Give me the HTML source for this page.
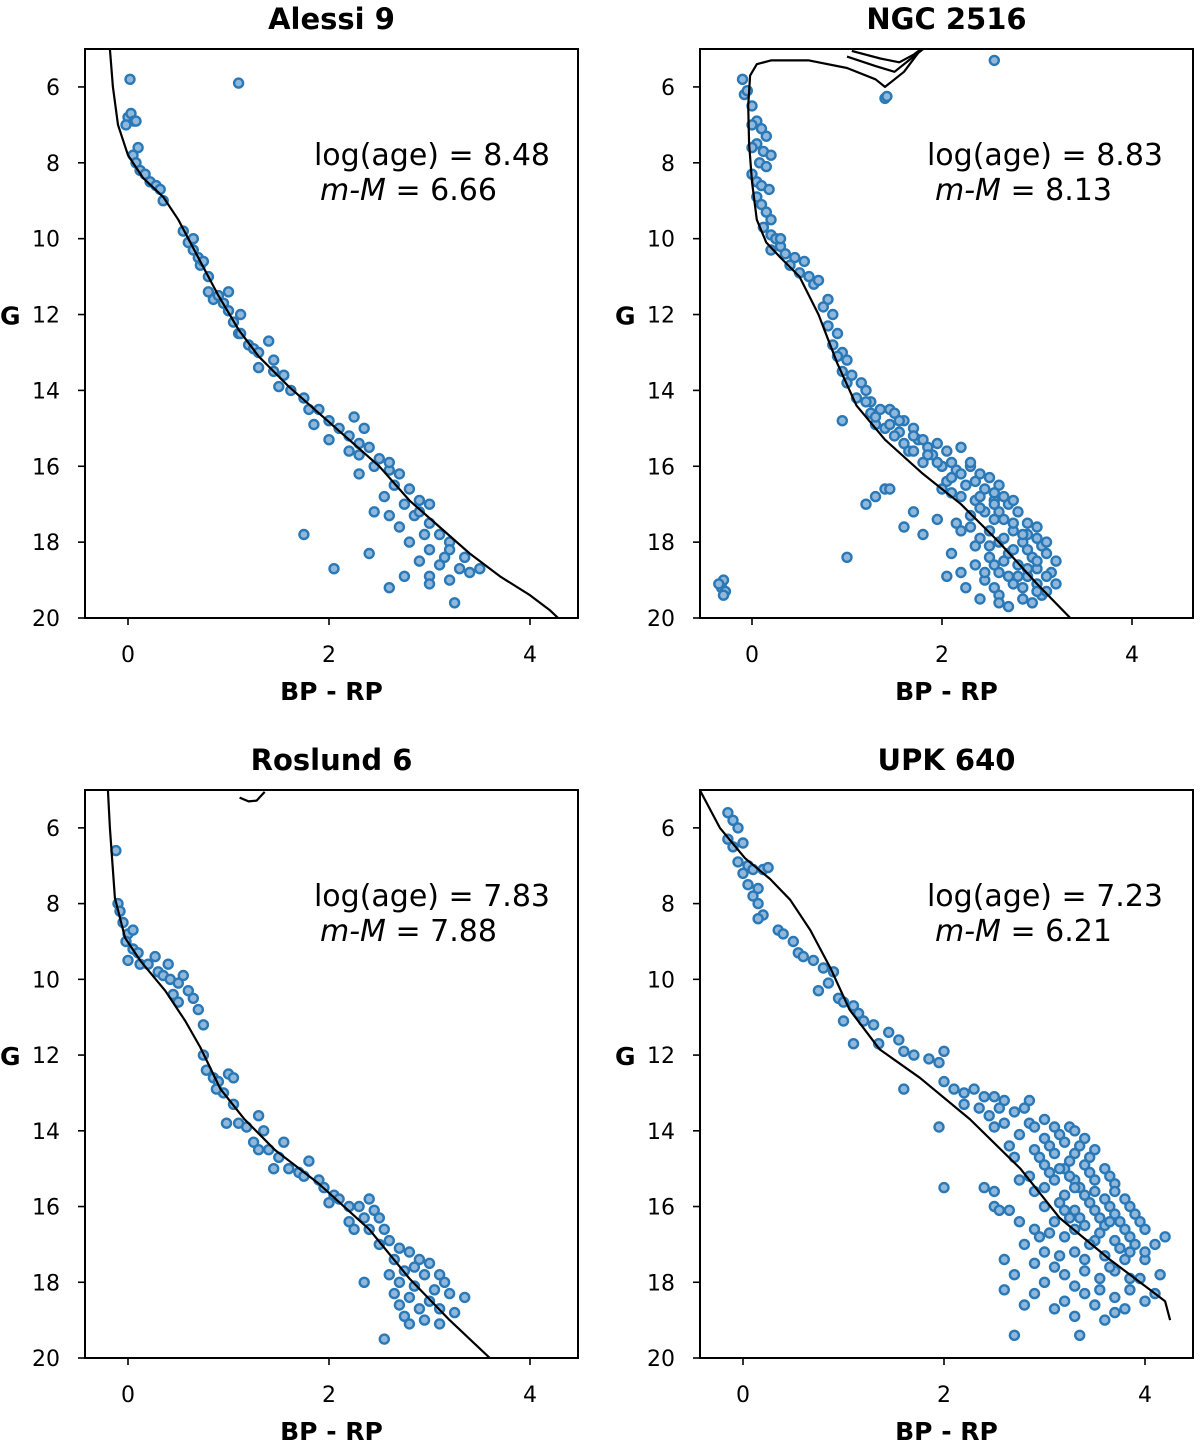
<!DOCTYPE html>
<html><head><meta charset="utf-8"><style>
body{margin:0;background:#fff}
svg{display:block;font-family:"DejaVu Sans","Liberation Sans",sans-serif}
</style></head><body>
<svg id="fig" width="1200" height="1449" viewBox="0 0 1200 1449" xmlns="http://www.w3.org/2000/svg"></svg>
<script>
// ---- data ----
const titles = ["Alessi 9","NGC 2516","Roslund 6","UPK 640"];
const logAges = ["8.48","8.83","7.83","7.23"];
const distMods = ["6.66","8.13","7.88","6.21"];
const yTicks = [6,8,10,12,14,16,18,20];
const xTicks = [0,2,4];

const iso1 = [[-0.18,5],[-0.15,6],[-0.1,7],[0,7.8],[0.15,8.4],[0.35,8.9],[0.5,9.5],[0.7,10.5],[0.9,11.5],[1.1,12.4],[1.3,13.1],[1.6,13.9],[1.9,14.6],[2.2,15.3],[2.5,16.0],[2.8,16.9],[3.1,17.6],[3.4,18.3],[3.7,18.9],[4.0,19.4],[4.2,19.8],[4.28,20]];
const iso2 = [[3.35,20],[3.0,19.1],[2.6,18.0],[2.2,17.0],[1.8,16.2],[1.4,15.3],[1.1,14.4],[0.9,13.3],[0.7,12.0],[0.5,11.0],[0.3,10.5],[0.15,10.1],[0.05,9.5],[0.0,8.5],[-0.03,7.5],[-0.04,6.5],[-0.02,5.7],[0.05,5.4],[0.2,5.3],[0.6,5.3],[1.0,5.5],[1.3,5.8],[1.4,6.0],[1.6,5.6],[1.75,5.1],[1.8,5.0]];
const iso2b = [[1.0,5.2],[1.3,5.45],[1.5,5.6],[1.65,5.3],[1.8,5.0]];
const iso2c = [[1.05,5.05],[1.35,5.25],[1.55,5.35],[1.7,5.15],[1.78,5.0]];
const iso3 = [[-0.2,5.0],[-0.18,6.0],[-0.13,7.85],[-0.03,8.9],[0.12,9.5],[0.37,10.3],[0.57,11.1],[0.72,11.8],[0.92,12.9],[1.16,13.7],[1.46,14.5],[1.9,15.4],[2.4,16.6],[2.8,17.9],[3.2,19.0],[3.6,20.0]];
const iso3b = [[1.11,5.2],[1.2,5.3],[1.28,5.28],[1.36,5.05]];
const iso4 = [[-0.43,5.0],[-0.23,6.0],[0.02,6.8],[0.27,7.35],[0.47,7.9],[0.67,8.7],[0.87,9.7],[1.06,10.8],[1.36,11.85],[1.76,12.6],[2.26,13.7],[2.76,15.0],[3.15,16.3],[3.65,17.4],[4.05,18.2],[4.2,18.5],[4.25,19.0]];

const stars1 = [[0.02,5.8],[1.1,5.9],[0,6.8],[0.03,6.7],[0.06,6.9],[-0.02,7],[0.08,6.9],[0.05,7.8],[0.1,7.6],[0.08,8.0],[0.12,8.2],[0.17,8.3],[0.22,8.5],[0.28,8.6],[0.32,8.7],[0.35,9.0],[0.55,9.8],[0.6,10.1],[0.65,10.3],[0.7,10.5],[0.72,10.7],[0.8,11.0],[0.8,11.4],[0.85,11.6],[0.9,11.5],[1.0,11.4],[1.0,11.9],[1.05,12.2],[1.12,12.0],[1.1,12.5],[1.2,12.8],[1.25,12.9],[1.3,13.0],[1.45,13.2],[1.55,13.6],[1.5,13.9],[1.62,14.0],[1.75,14.2],[1.8,14.5],[1.9,14.5],[1.85,14.9],[2.0,14.8],[2.1,15.0],[2.0,15.3],[2.2,15.2],[2.3,15.4],[2.4,15.5],[2.5,15.8],[2.3,15.7],[2.45,16.0],[2.6,16.1],[2.7,16.2],[2.65,16.5],[2.8,16.6],[2.55,16.8],[2.75,17.0],[2.9,16.9],[3.0,17.0],[2.85,17.3],[3.0,17.5],[2.7,17.6],[2.95,17.8],[3.1,17.8],[3.2,18.0],[2.8,18.0],[3.0,18.2],[3.2,18.2],[3.35,18.4],[2.9,18.5],[3.1,18.6],[3.3,18.7],[3.5,18.7],[2.75,18.9],[3.0,18.9],[3.2,19.0],[3.4,18.8],[2.6,19.2],[3.0,19.1],[3.25,19.6],[1.75,17.8],[2.05,18.7],[2.4,18.3],[2.2,15.6],[2.25,14.7],[2.35,15.0],[2.3,16.2],[2.6,15.9],[1.45,13.5],[1.3,13.4],[1.12,12.5],[2.45,17.2],[2.6,17.3],[1.4,12.7],[0.65,10.0],[0.75,10.6],[0.95,11.7],[2.9,17.2],[3.15,18.4]];
const stars2 = [[-0.1,5.8],[-0.08,6.2],[-0.05,6.1],[1.4,6.3],[1.42,6.25],[2.55,5.3],[0.0,6.5],[0.05,6.9],[0.0,7.0],[0.1,7.1],[0.15,7.3],[0.05,7.5],[0.12,7.7],[0.2,7.8],[0.0,7.6],[0.08,8.0],[0.15,8.1],[0.0,8.3],[0.05,8.5],[0.1,8.6],[0.18,8.7],[0.05,8.9],[0.1,9.1],[0.15,9.3],[0.2,9.5],[0.12,9.7],[0.2,9.9],[0.25,10.0],[0.3,10.2],[0.2,10.3],[0.35,10.4],[0.45,10.5],[0.4,10.7],[0.55,10.6],[0.5,10.9],[0.6,11.0],[0.65,11.2],[0.7,11.1],[0.8,11.6],[0.75,11.8],[0.85,12.0],[0.8,12.3],[0.9,12.5],[0.85,12.8],[0.95,13.0],[1.0,13.2],[0.95,13.5],[1.05,13.6],[1.15,13.8],[1.2,14.0],[1.1,14.2],[1.25,14.3],[1.35,14.5],[1.45,14.5],[1.5,14.6],[1.6,14.8],[1.3,14.9],[1.4,15.0],[1.55,15.1],[1.7,15.0],[0.95,14.8],[1.75,15.3],[1.6,15.4],[1.85,15.5],[1.9,15.7],[2.05,15.6],[2.2,15.5],[1.8,15.9],[2.0,16.0],[2.15,16.1],[2.3,16.0],[2.4,16.2],[2.05,16.4],[2.25,16.5],[2.45,16.6],[2.6,16.5],[2.2,16.8],[2.35,16.9],[2.55,16.9],[2.7,17.0],[2.8,17.2],[2.45,17.2],[2.3,17.3],[2.65,17.4],[2.9,17.5],[3.0,17.6],[2.5,17.7],[2.75,17.7],[2.2,17.7],[2.4,17.9],[2.6,18.0],[2.85,18.0],[3.05,18.1],[2.7,18.3],[2.95,18.4],[3.1,18.3],[2.5,18.4],[2.8,18.6],[3.0,18.7],[2.6,18.8],[2.9,18.9],[3.15,18.8],[2.45,19.0],[2.75,19.1],[3.0,19.1],[3.2,19.1],[2.6,19.4],[2.85,19.5],[3.05,19.4],[2.7,19.7],[2.4,19.5],[2.25,19.2],[2.1,18.3],[1.95,17.4],[1.8,17.8],[1.6,17.6],[1.7,17.2],[1.4,16.6],[1.45,16.6],[1.2,17.0],[1.3,16.8],[1.0,18.4],[2.2,18.8],[2.05,18.9],[2.3,15.9],[-0.3,19.0],[-0.32,19.2],[-0.28,19.3],[-0.3,19.4],[-0.35,19.1],[1.95,15.9],[2.1,16.3],[2.5,16.3],[2.4,16.8],[2.6,17.2],[2.9,17.8],[3.1,18.0],[3.2,18.5],[2.35,18.1],[1.65,15.6],[1.5,15.2],[1.25,14.6],[2.0,16.6],[2.9,18.2],[2.55,18.6],[3.1,19.3],[2.8,18.9],
[1.3,14.7],[1.45,14.9],[1.55,14.8],[1.7,15.2],[1.8,15.3],[1.95,15.4],[1.7,15.6],[1.85,15.7],[2.1,15.9],[2.2,16.2],[2.35,16.4],[2.55,16.7],[2.65,16.8],[2.1,16.7],[2.4,17.1],[2.55,17.4],[2.75,17.5],[2.85,17.8],[3.0,17.9],[2.65,17.9],[2.5,18.1],[2.75,18.2],[3.0,18.5],[2.65,18.5],[2.9,18.7],[3.1,18.9],[2.7,18.9],[2.85,19.2],[3.0,19.3],[2.55,19.2],[2.95,19.6],[2.6,19.6],[2.35,18.6],[2.45,18.8],[2.15,17.5],[2.3,17.6],[2.55,17.0],[2.75,16.9],[1.2,14.3],[1.0,13.8],[0.9,13.1],[0.3,10.0]];
const stars3 = [[-0.12,6.6],[-0.1,8.0],[-0.08,8.2],[-0.05,8.5],[0.0,8.8],[0.05,8.7],[-0.02,9.0],[0.05,9.2],[0.1,9.3],[0.0,9.5],[0.12,9.6],[0.2,9.6],[0.27,9.4],[0.4,9.6],[0.3,9.8],[0.35,9.9],[0.42,10.0],[0.5,10.1],[0.55,9.9],[0.6,10.3],[0.65,10.5],[0.7,10.8],[0.75,11.2],[0.45,10.4],[0.5,10.6],[0.75,12.0],[0.78,12.4],[0.85,12.6],[0.9,12.7],[1.0,12.5],[1.05,12.6],[0.95,13.0],[1.05,13.3],[0.98,13.8],[1.1,13.8],[1.18,13.9],[1.3,13.6],[1.35,14.0],[1.25,14.3],[1.4,14.5],[1.55,14.3],[1.5,14.7],[1.6,15.0],[1.7,15.1],[1.8,14.8],[1.9,15.3],[1.95,15.5],[2.05,15.7],[2.1,15.8],[2.2,16.0],[2.3,16.0],[2.4,15.8],[2.45,16.1],[2.35,16.3],[2.5,16.3],[2.55,16.6],[2.4,16.6],[2.6,16.9],[2.5,17.0],[2.7,17.1],[2.8,17.2],[2.65,17.4],[2.9,17.4],[3.0,17.5],[2.75,17.7],[2.95,17.8],[3.1,17.8],[2.7,18.0],[2.85,18.1],[3.05,18.2],[2.65,18.3],[3.2,18.3],[2.8,18.4],[3.0,18.5],[3.35,18.4],[2.7,18.6],[2.9,18.7],[3.1,18.7],[3.25,18.8],[2.75,18.9],[2.95,19.0],[3.1,19.1],[2.8,19.1],[2.55,19.5],[2.35,18.0],[1.45,15.0],[1.75,15.2],[2.2,16.4],[2.0,15.9],[1.3,14.5],[0.88,12.9],[2.25,16.6],[2.85,17.6],[3.15,18.0],[2.6,17.8]];
const stars4 = [[-0.15,5.6],[-0.1,5.8],[-0.05,6.0],[-0.15,6.3],[-0.1,6.5],[0.0,6.4],[-0.05,6.9],[0.05,7.0],[0.0,7.2],[0.1,7.1],[0.2,7.1],[0.25,7.05],[0.05,7.5],[0.15,7.6],[0.1,7.8],[0.15,8.0],[0.2,8.3],[0.15,8.4],[0.35,8.7],[0.4,8.8],[0.5,9.0],[0.55,9.3],[0.6,9.4],[0.7,9.5],[0.8,9.7],[0.9,9.8],[0.85,10.1],[0.75,10.3],[0.95,10.5],[1.0,10.6],[1.1,10.7],[1.15,10.9],[1.2,11.1],[1.3,11.2],[1.45,11.4],[1.55,11.6],[1.35,11.7],[1.6,11.9],[1.7,12.0],[1.85,12.1],[1.95,12.2],[1.1,11.7],[2.0,12.7],[2.1,12.9],[2.2,13.0],[2.3,12.9],[2.4,13.1],[2.5,13.1],[2.6,13.2],[2.7,13.5],[2.8,13.4],[2.2,13.3],[2.45,13.6],[1.95,13.9],[2.6,13.8],[2.85,13.8],[3.0,13.7],[3.1,13.9],[3.25,13.9],[2.75,14.1],[3.0,14.2],[3.2,14.3],[3.4,14.2],[2.9,14.5],[3.1,14.6],[3.3,14.6],[3.5,14.5],[2.7,14.7],[3.0,14.9],[3.2,15.0],[3.4,14.9],[3.6,15.0],[2.85,15.2],[3.1,15.3],[3.3,15.3],[3.5,15.3],[3.7,15.4],[2.9,15.6],[3.2,15.7],[3.4,15.7],[3.6,15.8],[3.8,15.8],[3.0,16.0],[3.3,16.1],[3.5,16.1],[3.7,16.2],[3.9,16.2],[3.1,16.4],[3.4,16.5],[3.6,16.5],[3.8,16.6],[4.0,16.6],[2.9,16.6],[3.2,16.8],[3.5,16.9],[3.7,16.9],[3.9,17.0],[4.1,17.0],[2.8,17.0],[3.0,17.2],[3.3,17.2],[3.6,17.3],[3.8,17.4],[4.0,17.4],[2.6,17.4],[3.1,17.6],[3.4,17.7],[3.7,17.7],[3.95,17.9],[4.15,17.8],[2.7,17.8],[3.0,18.0],[3.3,18.1],[3.55,18.2],[3.85,18.2],[4.1,18.3],[2.9,18.3],[3.2,18.5],[3.5,18.6],[3.8,18.7],[2.6,18.2],[2.8,18.6],[3.3,18.9],[3.7,18.8],[2.7,19.4],[3.35,19.4],[2.4,15.5],[2.5,15.6],[2.0,15.5],[2.5,16.0],[2.55,16.1],[2.65,16.1],[2.75,15.3],[1.0,11.1],[2.0,11.9],[1.6,12.9],[4.2,16.8],[3.15,15.0],[3.35,15.5],[3.55,16.3],[3.25,16.3],[3.45,17.0],[3.65,17.6],[2.95,16.8],[3.15,17.3],[3.05,14.4],[3.35,14.4],[2.5,13.9],[2.35,13.4],[3.75,16.4],[3.85,17.2],
[2.9,13.9],[3.15,14.1],[3.3,14.0],[2.95,14.7],[3.25,14.8],[3.45,14.7],[3.05,15.1],[3.25,15.2],[3.45,15.1],[3.65,15.2],[3.0,15.5],[3.3,15.5],[3.5,15.6],[3.7,15.6],[3.15,15.9],[3.45,15.9],[3.65,16.0],[3.85,16.0],[3.2,16.1],[3.35,16.3],[3.65,16.4],[3.95,16.4],[3.05,16.7],[3.3,16.6],[3.55,16.7],[3.85,16.8],[3.4,17.4],[3.75,17.1],[4.0,17.2],[3.2,17.8],[3.55,17.9],[3.85,17.9],[3.4,18.3],[3.7,18.4],[4.0,18.5],[3.1,18.7],[3.6,19.0],[2.9,17.5],[2.75,16.4],[2.65,14.4],[2.55,13.4],[2.85,13.2]];

// ---- layout ----
const panels = [
  {id:"alessi-9",L:85,R:578,T:49,B:618,x0:128,xs:100.5,iso:[iso1],stars:stars1,tx:550,mx:320},
  {id:"ngc-2516",L:700,R:1193,T:49,B:618,x0:752,xs:95,iso:[iso2,iso2b,iso2c],stars:stars2,tx:1163,mx:935},
  {id:"roslund-6",L:85,R:578,T:790,B:1358,x0:128,xs:100.5,iso:[iso3,iso3b],stars:stars3,tx:550,mx:320},
  {id:"upk-640",L:700,R:1193,T:790,B:1358,x0:743,xs:100.5,iso:[iso4],stars:stars4,tx:1163,mx:935}
];
const NS="http://www.w3.org/2000/svg";
const svg=document.getElementById("fig");
function mk(tag,attrs,parent){const e=document.createElementNS(NS,tag);for(const k in attrs)e.setAttribute(k,attrs[k]);(parent||svg).appendChild(e);return e;}

panels.forEach((p,i)=>{
  const g=mk("g",{});
  
  
  const ys=(p.B-p.T)/15;
  const X=v=>p.x0+v*p.xs;
  const Y=v=>p.T+(v-5)*ys;
  const cp="clip"+i;
  const cl=mk("clipPath",{id:cp},g);mk("rect",{x:p.L,y:p.T,width:p.R-p.L,height:p.B-p.T},cl);
  const sg=mk("g",{"clip-path":"url(#"+cp+")"},g);
  
  
  p.stars.forEach(s=>{
    const c=mk("circle",{cx:X(s[0]).toFixed(1),cy:Y(s[1]).toFixed(1),r:4.5,fill:"#8fb8dc",stroke:"#2a78b6","stroke-width":2.4},sg);
    
    
  });
  p.iso.forEach(line=>{
    const pl=mk("polyline",{points:line.map(q=>X(q[0]).toFixed(1)+","+Y(q[1]).toFixed(1)).join(" "),fill:"none",stroke:"#000","stroke-width":2.2,"stroke-linejoin":"round","clip-path":"url(#"+cp+")"},g);
    
    
  });
  const fr=mk("rect",{x:p.L,y:p.T,width:p.R-p.L,height:p.B-p.T,fill:"none",stroke:"#000","stroke-width":2},g);
  
  
  yTicks.forEach(t=>{
    const y=Y(t);
    mk("line",{x1:p.L-7,x2:p.L,y1:y,y2:y,stroke:"#000","stroke-width":1.6},g);
    const tx=mk("text",{x:p.L-25,y:y+8,"font-size":22,"text-anchor":"end"},g);tx.textContent=t;
    
    
  });
  xTicks.forEach(t=>{
    const x=X(t);
    mk("line",{x1:x,x2:x,y1:p.B,y2:p.B+7,stroke:"#000","stroke-width":1.6},g);
    const tx=mk("text",{x:x,y:p.B+44,"font-size":22,"text-anchor":"middle"},g);tx.textContent=t;
    
    
  });
  const mid=(p.L+p.R)/2;
  const ti=mk("text",{x:mid,y:p.T-20,"font-size":29,"font-weight":"bold","text-anchor":"middle"},g);ti.textContent=titles[i];
  
  
  const xl=mk("text",{x:mid,y:p.B+82,"font-size":25,"font-weight":"bold","text-anchor":"middle"},g);xl.textContent="BP - RP";
  
  
  const yl=mk("text",{x:p.L-85,y:Y(12)+10,"font-size":25,"font-weight":"bold"},g);yl.textContent="G";
  
  
  const a1=mk("text",{x:p.tx,y:p.T+116,"font-size":30,"text-anchor":"end"},g);a1.textContent="log(age) = "+logAges[i];
  
  
  const a2=mk("text",{x:p.mx,y:p.T+151,"font-size":30},g);
  
  
  const ts=mk("tspan",{"font-style":"italic"},a2);ts.textContent="m-M";
  const ts2=mk("tspan",{},a2);ts2.textContent=" = "+distMods[i];
});
</script>
</body></html>
